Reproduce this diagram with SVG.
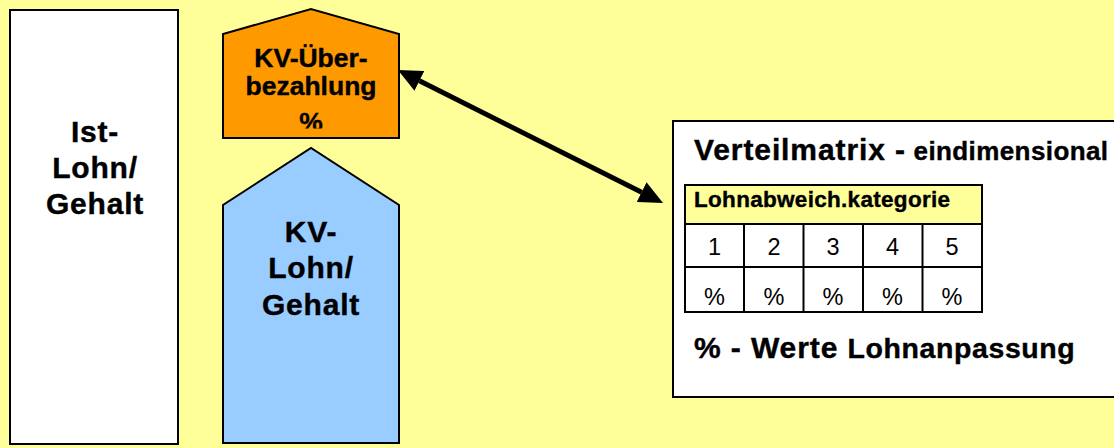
<svg xmlns="http://www.w3.org/2000/svg" width="1114" height="448" viewBox="0 0 1114 448">
<style>
.b{font-family:"Liberation Sans",Arial,sans-serif;font-weight:bold;fill:#000;stroke:#000;stroke-width:0.4}
.r{font-family:"Liberation Sans",Arial,sans-serif;fill:#000}
.col{font-size:30px;text-anchor:middle;letter-spacing:0.8px}
.shape{stroke:#000;stroke-width:2}
.grid{stroke:#000;stroke-width:2;fill:none}
.cell{font-size:23.5px;text-anchor:middle}
</style>
<defs>
<marker id="ah" markerUnits="userSpaceOnUse" markerWidth="24" markerHeight="22" refX="0" refY="11" orient="auto-start-reverse" viewBox="0 0 24 22">
<path d="M0,0 L24,11 L0,22 z" fill="#000"/>
</marker>
<clipPath id="oclip"><rect x="223" y="34" width="176" height="94.5"/></clipPath>
</defs>
<rect x="0" y="0" width="1114" height="448" fill="#FFFF99"/>
<g id="ist">
<rect class="shape" x="10" y="10" width="168" height="434" fill="#fff"/>
<text class="b col" x="95" y="142">Ist-</text>
<text class="b col" x="95" y="178">Lohn/</text>
<text class="b col" x="95" y="214">Gehalt</text>
</g>
<g id="kv-ueber">
<polygon class="shape" points="223,138 223,34 311,9 399,34 399,138" fill="#FF9900"/>
<g clip-path="url(#oclip)">
<text class="b" font-size="26.5" text-anchor="middle" x="311" y="66.5">KV-Über-</text>
<text class="b" font-size="26.5" text-anchor="middle" x="311" y="95">bezahlung</text>
<text class="b" font-size="26.5" text-anchor="middle" x="311" y="131">%</text>
</g>
</g>
<g id="kv-lohn">
<polygon class="shape" points="223,443 223,205 311,148 399,205 399,443" fill="#99CCFF"/>
<text class="b col" x="311" y="242">KV-</text>
<text class="b col" x="311" y="278">Lohn/</text>
<text class="b col" x="311" y="315">Gehalt</text>
</g>
<g id="matrix">
<rect x="673" y="121" width="460" height="276" fill="#fff" stroke="#000" stroke-width="2"/>
<text class="b" x="694" y="160"><tspan font-size="30" letter-spacing="0.9">Verteilmatrix -</tspan><tspan font-size="26" letter-spacing="0.4"> eindimensional</tspan></text>
<rect x="685" y="185" width="297" height="39" fill="#FFFF99"/>
<rect x="685" y="224" width="297" height="88" fill="#fff"/>
<rect class="grid" x="685" y="185" width="297" height="127"/>
<line class="grid" x1="685" y1="224" x2="982" y2="224"/>
<line class="grid" x1="685" y1="267" x2="982" y2="267"/>
<line class="grid" x1="744" y1="224" x2="744" y2="312"/>
<line class="grid" x1="803.5" y1="224" x2="803.5" y2="312"/>
<line class="grid" x1="863" y1="224" x2="863" y2="312"/>
<line class="grid" x1="922.5" y1="224" x2="922.5" y2="312"/>
<text class="b" font-size="22.5" x="694" y="206.5" letter-spacing="0.3">Lohnabweich.kategorie</text>
<text class="r cell" x="714.5" y="255">1</text>
<text class="r cell" x="774" y="255">2</text>
<text class="r cell" x="833" y="255">3</text>
<text class="r cell" x="892.5" y="255">4</text>
<text class="r cell" x="952" y="255">5</text>
<text class="r cell" x="714.5" y="305">%</text>
<text class="r cell" x="774" y="305">%</text>
<text class="r cell" x="833" y="305">%</text>
<text class="r cell" x="892.5" y="305">%</text>
<text class="r cell" x="952" y="305">%</text>
<text class="b" x="694" y="358"><tspan font-size="30" letter-spacing="0.9">% - Werte </tspan><tspan font-size="28.5" letter-spacing="0.6">Lohnanpassung</tspan></text>
</g>
<g id="connectors">
<line x1="419.4" y1="80.8" x2="641.6" y2="192.2" stroke="#000" stroke-width="5" marker-start="url(#ah)" marker-end="url(#ah)"/>
</g>
</svg>
